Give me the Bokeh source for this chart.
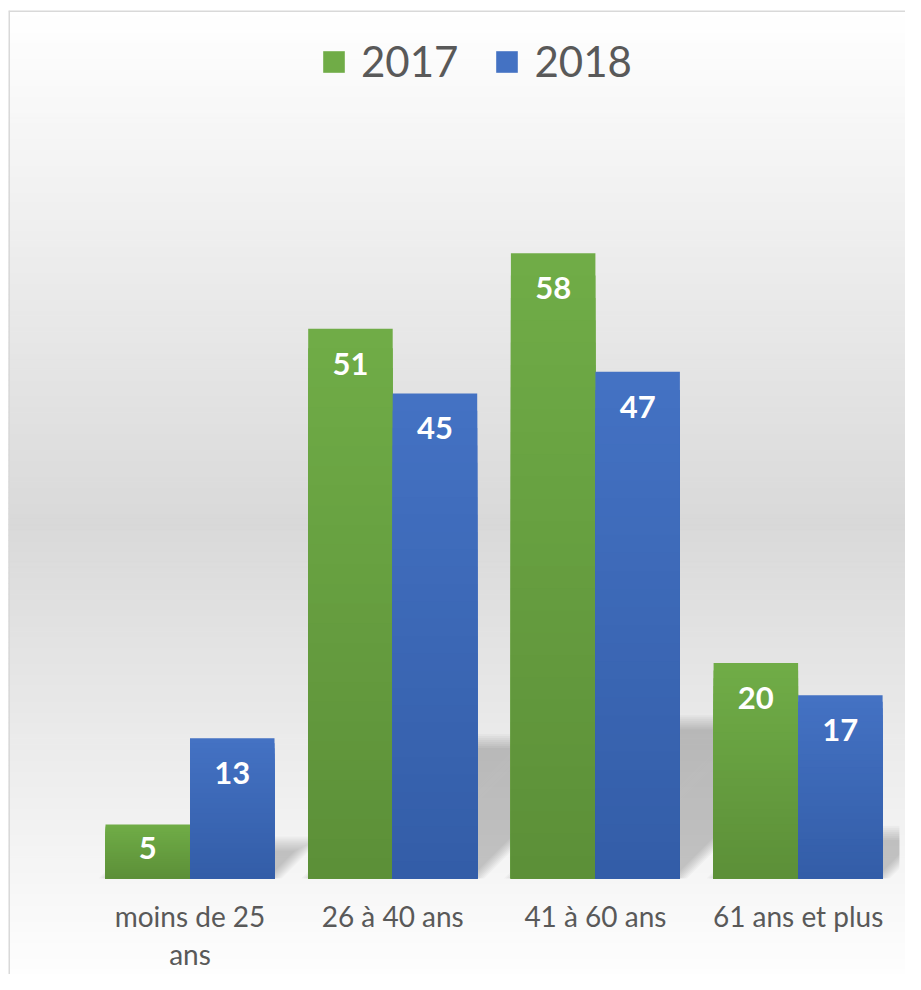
import numpy as np
from bokeh.plotting import figure
from bokeh.models import Range1d, Legend, LegendItem, Span
from bokeh.core.properties import value
from bokeh.embed import file_html
from bokeh.resources import INLINE

# ---------------- data ----------------
categories = ["moins de 25\nans", "26 à 40 ans", "41 à 60 ans", "61 ans et plus"]
series_names = ["2017", "2018"]
values_2017 = [5, 51, 58, 20]
values_2018 = [13, 45, 47, 17]

# ---------------- layout / style ----------------
W, H = 905, 974
PAD_TOP, PAD_LEFT = 10, 8
FRAME_W = W - PAD_LEFT
FRAME_H = H - PAD_TOP
PX_X = 202.7          # pixels per category
PX_Y = 10.78          # pixels per value unit
X0_PX = 181.5         # frame px of first category centre
BASE_PX = 868         # frame px from top to the zero line
BAR_W = 84.5 / PX_X

GREEN_TOP, GREEN_BOT = (0x70, 0xAD, 0x47), (0x5C, 0x8F, 0x38)
BLUE_TOP, BLUE_BOT = (0x44, 0x72, 0xC4), (0x33, 0x5D, 0xA7)
TEXT_GREY = "#595959"
FONT = "Lato"

x_range = Range1d(-X0_PX / PX_X, (FRAME_W - X0_PX) / PX_X)
y_range = Range1d(-(FRAME_H - BASE_PX) / PX_Y, BASE_PX / PX_Y)

p = figure(width=W, height=H, x_range=x_range, y_range=y_range,
           output_backend="svg", toolbar_location=None,
           x_axis_location=None, y_axis_location=None,
           min_border_left=PAD_LEFT, min_border_right=0, min_border_top=PAD_TOP,
           min_border_bottom=0, outline_line_color=None,
           border_fill_color="white", background_fill_color="white")
p.grid.visible = False


def hexc(rgb):
    return "#%02x%02x%02x" % tuple(int(round(c)) for c in rgb)


# ---- background gradient (white -> grey -> white) ----
nb = 180
edges = np.linspace(y_range.start, y_range.end, nb + 1)
mids = (edges[:-1] + edges[1:]) / 2
frac = (y_range.end - mids) / (y_range.end - y_range.start)
gval = np.interp(frac, [0.0, 0.53, 1.0], [255, 217, 254])
bg_cols = [hexc((g, g, g)) for g in gval]
p.quad(left=x_range.start, right=x_range.end, bottom=edges[:-1], top=edges[1:],
       fill_color=bg_cols, line_color=bg_cols, line_width=1)

# ---- chart border (top and left) ----
p.add_layout(Span(location=y_range.end, dimension="width", line_color="#d9d9d9", line_width=3))
p.add_layout(Span(location=x_range.start, dimension="height", line_color="#d9d9d9", line_width=3))

n = len(categories)
idx = np.arange(n)
series = [(values_2017, idx - BAR_W / 2, GREEN_TOP, GREEN_BOT),
          (values_2018, idx + BAR_W / 2, BLUE_TOP, BLUE_BOT)]

# ---- perspective shadows (blurred skewed parallelograms) ----
CLIP_X = n - 0.5
SH_K = 0.25      # vertical scale of the shadow
SH_SLOPE = 1.0   # px up per px right


def clip_right(pts, xmax):
    out = []
    m = len(pts)
    for i in range(m):
        a, b = pts[i], pts[(i + 1) % m]
        ain, bin_ = a[0] <= xmax, b[0] <= xmax
        if ain:
            out.append(a)
        if ain != bin_:
            t = (xmax - a[0]) / (b[0] - a[0])
            out.append((xmax, a[1] + t * (b[1] - a[1])))
    return out


blur_steps = np.linspace(-7, 7, 8)
for e in blur_steps:
    xs_all, ys_all = [], []
    for vals, xc, _, _ in series:
        for v, x in zip(vals, xc):
            xl, xr = x - BAR_W / 2, x + BAR_W / 2
            hpx = SH_K * v * PX_Y + e
            if hpx <= 0:
                continue
            s = hpx / SH_SLOPE / PX_X
            ex = e / PX_X
            pts = [(xl - ex, 0.0), (xr + ex, 0.0),
                   (xr + s + ex, hpx / PX_Y), (xl + s - ex, hpx / PX_Y)]
            pts = clip_right(pts, CLIP_X)
            if len(pts) >= 3:
                xs_all.append([q[0] for q in pts])
                ys_all.append([q[1] for q in pts])
    p.patches(xs_all, ys_all, fill_color="black", fill_alpha=0.028, line_color=None)

# ---- bars with vertical gradient ----
NS = 28
first_renderers = []
for vals, xc, ctop, cbot in series:
    vals = np.asarray(vals, dtype=float)
    for s in range(NS):
        t = (s + 0.5) / NS
        col = hexc(np.array(ctop) * (1 - t) + np.array(cbot) * t)
        r = p.vbar(x=xc, width=BAR_W, bottom=0, top=vals * (1 - s / NS),
                   fill_color=col, line_color=None)
        if s == 0:
            first_renderers.append(r)

# ---- data labels ----
lx, ly, lt, lo = [], [], [], []
for vals, xc, _, _ in series:
    for v, x in zip(vals, xc):
        lx.append(x)
        ly.append(v)
        lt.append(str(v))
        lo.append(min(35.0, v * PX_Y / 2 - 4))
p.text(x=lx, y=ly, text=lt, y_offset=lo, text_color="white",
       text_font=value(FONT), text_font_style="bold", text_font_size="31px",
       text_align="center", text_baseline="middle")

# ---- category labels ----
cx, cy, ct, co = [], [], [], []
for i, c in enumerate(categories):
    for j, line in enumerate(c.split("\n")):
        cx.append(i)
        cy.append(0)
        ct.append(line)
        co.append(37 + 38 * j)
p.text(x=cx, y=cy, text=ct, y_offset=co, text_color=TEXT_GREY,
       text_font=value(FONT), text_font_size="28px",
       text_align="center", text_baseline="alphabetic")

# ---- legend ----
legend = Legend(items=[LegendItem(label=nm, renderers=[r])
                       for nm, r in zip(series_names, first_renderers)],
                orientation="horizontal", location=(312, 888),
                label_text_font=FONT, label_text_font_size="42px",
                label_text_color=TEXT_GREY, glyph_width=27, glyph_height=27,
                label_standoff=14, spacing=35, padding=0, margin=0,
                background_fill_alpha=0, border_line_color=None)
p.add_layout(legend)

open("out.html", "w").write(file_html(p, INLINE))
